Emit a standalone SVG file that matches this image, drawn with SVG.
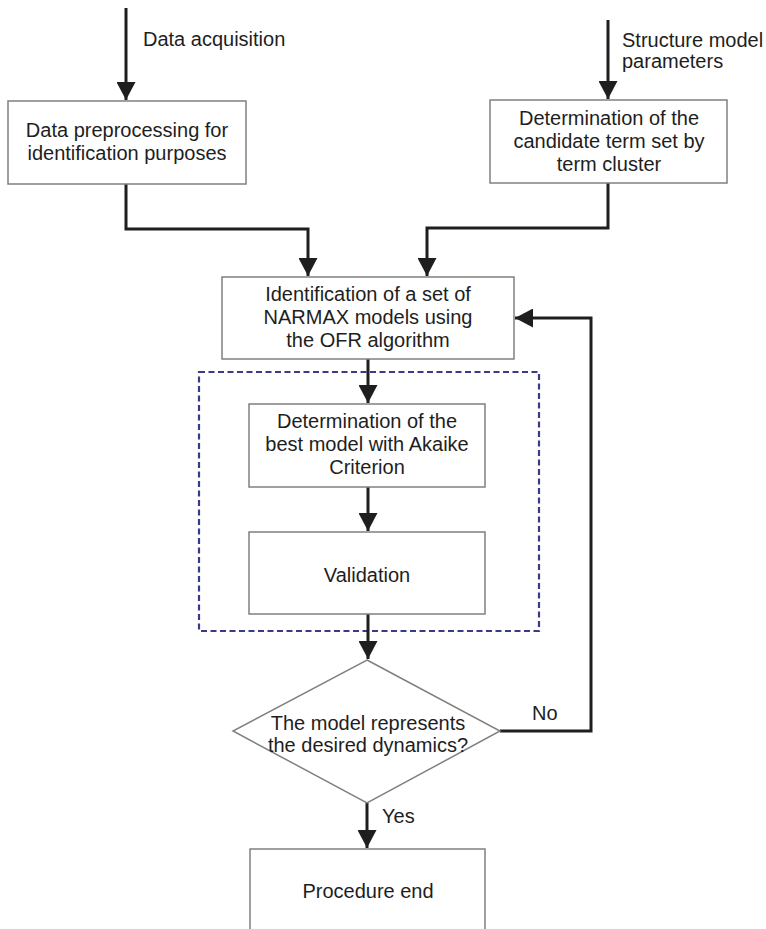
<svg xmlns="http://www.w3.org/2000/svg" width="766" height="929" viewBox="0 0 766 929">
  <style>
    .box { fill: #ffffff; stroke: #808080; stroke-width: 1.5; }
    .lbl { font-family: "Liberation Sans", Arial, sans-serif; font-size: 20px; fill: #1e1e1e; }
    .mid { text-anchor: middle; }
    .wire { fill: none; stroke: #1e1e1e; stroke-width: 3; stroke-linejoin: miter; }
    .group { fill: none; stroke: #3a3a86; stroke-width: 2.2; stroke-dasharray: 6 3.5; }
  </style>
  <defs>
    <marker id="arrow" markerUnits="userSpaceOnUse" markerWidth="19" markerHeight="19" refX="18" refY="9.5" orient="auto" viewBox="0 0 19 19">
      <path d="M0,0 L18,9.5 L0,19 z" fill="#1e1e1e"/>
    </marker>
  </defs>
  <rect width="766" height="929" fill="#ffffff"/>

  <!-- dashed grouping around selection and validation -->
  <rect class="group" x="199" y="372" width="340" height="259"/>

  <!-- connectors -->
  <g id="connectors">
    <path class="wire" d="M126,8 V100" marker-end="url(#arrow)"/>
    <text class="lbl" x="143" y="46">Data acquisition</text>
    <path class="wire" d="M608,20 V99" marker-end="url(#arrow)"/>
    <text class="lbl" x="622" y="47">Structure model</text>
    <text class="lbl" x="622" y="68">parameters</text>
    <path class="wire" d="M126,184 V229 H308 V276" marker-end="url(#arrow)"/>
    <path class="wire" d="M608,183 V228 H427 V276" marker-end="url(#arrow)"/>
    <path class="wire" d="M368,359 V403" marker-end="url(#arrow)"/>
    <path class="wire" d="M368,487 V531" marker-end="url(#arrow)"/>
    <path class="wire" d="M368,614 V659" marker-end="url(#arrow)"/>
    <path class="wire" d="M500,731 H591 V318 H515" marker-end="url(#arrow)"/>
    <text class="lbl" x="532" y="720">No</text>
    <path class="wire" d="M367,803 V848" marker-end="url(#arrow)"/>
    <text class="lbl" x="382" y="823">Yes</text>
  </g>

  <g id="preprocessing">
    <rect class="box" x="8" y="101" width="238" height="83"/>
    <text class="lbl mid" x="127" y="137">Data preprocessing for</text>
    <text class="lbl mid" x="127" y="160">identification purposes</text>
  </g>

  <g id="candidate-terms">
    <rect class="box" x="490" y="100" width="237" height="83"/>
    <text class="lbl mid" x="609" y="125">Determination of the</text>
    <text class="lbl mid" x="609" y="148">candidate term set by</text>
    <text class="lbl mid" x="609" y="171">term cluster</text>
  </g>

  <g id="identification">
    <rect class="box" x="222" y="277" width="292" height="82"/>
    <text class="lbl mid" x="368" y="301">Identification of a set of</text>
    <text class="lbl mid" x="368" y="324">NARMAX models using</text>
    <text class="lbl mid" x="368" y="347">the OFR algorithm</text>
  </g>

  <g id="best-model">
    <rect class="box" x="249" y="404" width="236" height="83"/>
    <text class="lbl mid" x="367" y="428">Determination of the</text>
    <text class="lbl mid" x="367" y="451">best model with Akaike</text>
    <text class="lbl mid" x="367" y="474">Criterion</text>
  </g>

  <g id="validation">
    <rect class="box" x="249" y="532" width="236" height="82"/>
    <text class="lbl mid" x="367" y="582">Validation</text>
  </g>

  <g id="decision">
    <polygon class="box" points="367,660 500,731 367,803 233,731"/>
    <text class="lbl mid" x="368" y="730">The model represents</text>
    <text class="lbl mid" x="368" y="752">the desired dynamics?</text>
  </g>

  <g id="procedure-end">
    <rect class="box" x="250" y="849" width="235" height="100"/>
    <text class="lbl mid" x="368" y="898">Procedure end</text>
  </g>
</svg>
